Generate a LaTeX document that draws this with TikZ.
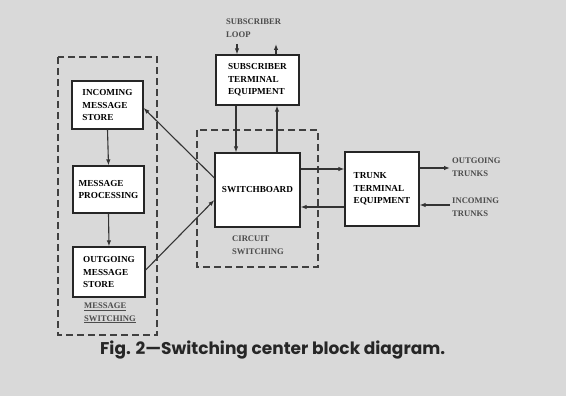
\documentclass[tikz,border=0pt]{standalone}
\usepackage{fontspec}
\setmainfont{Liberation Serif}
\newfontfamily\capfont{Poppins}
\usetikzlibrary{arrows.meta}
\begin{document}
\begin{tikzpicture}[x=1pt,y=-1pt,
  blk/.style={draw=black!85,line width=1.3pt,fill=white,align=left,inner sep=0pt,
    font=\bfseries\fontsize{9.2}{12.3}\selectfont},
  grp/.style={draw=black!75,line width=1.1pt,dash pattern=on 7pt off 4pt},
  con/.style={draw=black!80,line width=1.1pt,-{Latex[length=6pt,width=4.5pt]}},
  lbl/.style={align=left,inner sep=0pt,font=\bfseries\fontsize{8.6}{12.5}\selectfont,text=black!70}]
\fill[black!15] (0,0) rectangle (566,396);
\useasboundingbox (0,0) rectangle (566,396);
% group frames
\draw[grp] (58,57) rectangle (157,335);
\draw[grp] (197,130) rectangle (318,267);
% blocks
\node[blk,minimum width=71pt,minimum height=48pt] (inc) at (107.5,105) {INCOMING\\MESSAGE\\STORE};
\node[blk,minimum width=71pt,minimum height=47pt] (proc) at (108.5,189.5) {MESSAGE\\PROCESSING};
\node[blk,minimum width=72pt,minimum height=50pt] (out) at (109,272) {OUTGOING\\MESSAGE\\STORE};
\node[blk,minimum width=83pt,minimum height=50pt] (sub) at (257.5,80) {SUBSCRIBER\\TERMINAL\\EQUIPMENT};
\node[blk,minimum width=85pt,minimum height=74pt] (sw) at (257.5,190) {SWITCHBOARD};
\node[blk,minimum width=74pt,minimum height=74pt] (tr) at (382,189) {TRUNK\\TERMINAL\\EQUIPMENT};
% labels
\node[lbl,anchor=west] (msl) at (84,313) {\underline{MESSAGE}\\\underline{SWITCHING}};
\node[lbl,anchor=west] (csl) at (232,245) {CIRCUIT\\SWITCHING};
\node[lbl,anchor=west] (sll) at (226,28) {SUBSCRIBER\\LOOP};
\node[lbl,anchor=west] (otl) at (452,167) {OUTGOING\\TRUNKS};
\node[lbl,anchor=west] (itl) at (452,207) {INCOMING\\TRUNKS};
% free ends
\coordinate (loopA) at (237,44);
\coordinate (loopB) at (276,44);
\coordinate (otEnd) at (450,168);
\coordinate (itEnd) at (450,205);
% connectors
\draw[con] (inc.south) -- (proc.north);
\draw[con] (proc.south) -- (out.north);
\draw[con] ([yshift=12pt]sw.west) -- ([yshift=-3pt]inc.east);
\draw[con] ([yshift=2pt]out.east) -- ([yshift=-10pt]sw.west);
\draw[con] (loopA) -- (loopA |- sub.north);
\draw[con] (loopB |- sub.north) -- (loopB);
\draw[con] ([xshift=-21.5pt]sub.south) -- ([xshift=-21.5pt]sub.south |- sw.north);
\draw[con] ([xshift=19.5pt]sub.south |- sw.north) -- ([xshift=19.5pt]sub.south);
\draw[con] ([yshift=21pt]sw.east) -- ([yshift=20pt]tr.west);
\draw[con] ([yshift=-18pt]tr.west) -- ([yshift=-17pt]sw.east);
\draw[con] ([yshift=21pt]tr.east) -- (otEnd);
\draw[con] (itEnd) -- ([yshift=-16pt]tr.east);
% caption
\node[anchor=west,inner sep=0pt,font=\capfont\bfseries\fontsize{17}{19}\selectfont,text=black!85] (cap) at (100,350) {Fig. 2—Switching center block diagram.};
\end{tikzpicture}
\end{document}
